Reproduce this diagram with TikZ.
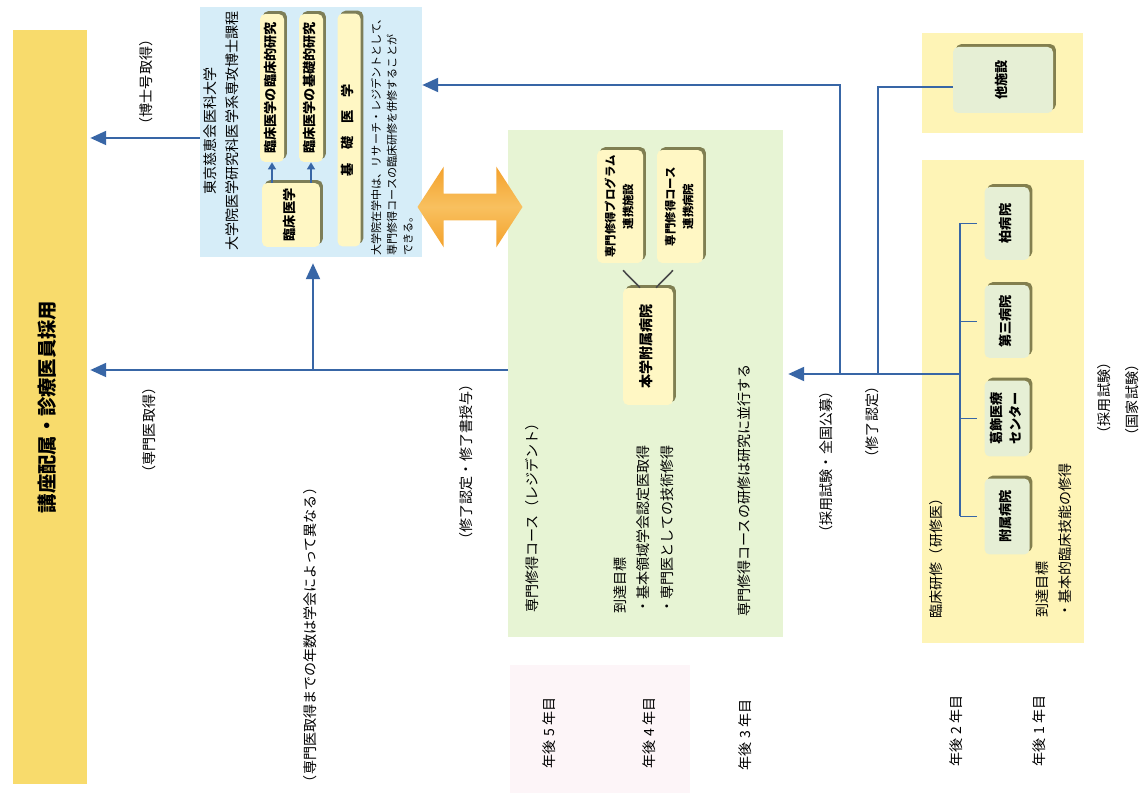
\documentclass[tikz,border=0pt]{standalone}
\usepackage{fontspec}
\usepackage{graphicx}
\setmainfont{Noto Sans CJK JP}
\usetikzlibrary{arrows.meta,positioning,calc,shapes.arrows,shadows}
\definecolor{barYellow}{HTML}{F8DB6C}
\definecolor{gradBlue}{HTML}{D6EDF8}
\definecolor{courseGreen}{HTML}{E7F4D4}
\definecolor{trainYellow}{HTML}{FEF4B6}
\definecolor{boxCream}{HTML}{FFF7C4}
\definecolor{hospGreen}{HTML}{E6EFD5}
\definecolor{boxShade}{HTML}{6E6B3C}
\definecolor{flowBlue}{HTML}{3866A6}
\definecolor{tieGray}{HTML}{4A4A4A}
\definecolor{linkOrange}{HTML}{F4A22C}
\definecolor{linkLight}{HTML}{F8C05F}
\definecolor{yearPink}{HTML}{FDF5F8}
\newcommand{\vtxt}[2][c]{\rotatebox{90}{\begin{tabular}{@{}#1@{}}#2\end{tabular}}}
\tikzset{
    >={Triangle[length=9pt,width=8pt]},
    flow/.style={draw=flowBlue,line width=1pt},
    tie/.style={draw=tieGray,line width=0.9pt},
    panel/.style={draw=none,inner sep=0pt},
    barbox/.style={panel,fill=barYellow,font=\fontsize{11}{13}\selectfont\bfseries},
    vbox/.style={panel,fill=boxCream,rounded corners=3pt,
        font=\fontsize{7.5}{10}\selectfont\bfseries,
        drop shadow={shadow xshift=1.6pt,shadow yshift=1.6pt,fill=boxShade,opacity=0.85}},
    hbox/.style={vbox,fill=hospGreen},
    lbl/.style={inner sep=0pt,font=\fontsize{8}{13}\selectfont}
}
\begin{document}
\begin{tikzpicture}[x=0.02cm,y=-0.02cm]
    \useasboundingbox[fill=white] (0,0) rectangle (1143,793);

    % Backgrounds
    \node[barbox,minimum width=1.48cm,minimum height=15.1cm] (post) at (50,407) {\vtxt{講座配属・診療医員採用}};
    \node[panel,fill=gradBlue,minimum width=4.44cm,minimum height=5cm] (grad) at (311,132) {};
    \node[panel,fill=courseGreen,minimum width=5.5cm,minimum height=10.14cm] (course) at (645.5,383.5) {};
    \node[panel,fill=trainYellow,minimum width=3.22cm,minimum height=2cm] (otherbg) at (1002.5,83) {};
    \node[panel,fill=trainYellow,minimum width=3.24cm,minimum height=9.66cm] (train) at (1003,401.5) {};
    \node[panel,fill=yearPink,minimum width=3.6cm,minimum height=2.56cm] (yearbg) at (600,729) {};

    % Graduate school
    \node[lbl] (gradttl) at (222,131) {\vtxt{東京慈恵会医科大学\\大学院医学研究科医学系専攻博士課程}};
    \node[vbox,minimum width=0.48cm,minimum height=2.96cm] (clinres) at (272,88) {\vtxt{臨床医学の臨床的研究}};
    \node[vbox,minimum width=0.48cm,minimum height=2.96cm] (basicres) at (311,88) {\vtxt{臨床医学の基礎的研究}};
    \node[vbox,minimum width=1.16cm,minimum height=1.28cm] (clinmed) at (291,215) {\vtxt{臨床医学}};
    \node[vbox,minimum width=0.46cm,minimum height=4.66cm] (basicmed) at (349,130) {\vtxt{基　礎　医　学}};
    \node[lbl,font=\fontsize{6.3}{9}\selectfont,anchor=south west] (gradnote) at (369,256)
        {\vtxt[l]{大学院在学中は、リサーチ・レジデントとして、\\専門修得コースの臨床研修を併修することが\\できる。}};
    \draw[flow,-{Triangle[length=4pt,width=4.5pt]}] (clinmed.north -| clinres) -- (clinres.south);
    \draw[flow,-{Triangle[length=4pt,width=4.5pt]}] (clinmed.north -| basicres) -- (basicres.south);

    % Link between school and course
    \node[double arrow,top color=linkOrange,bottom color=linkOrange,middle color=linkLight,
        minimum height=2.1cm,inner xsep=0pt,inner ysep=0.26cm,double arrow head extend=0.54cm,
        double arrow tip angle=114] (link) at (470,207) {};

    % Specialist course
    \node[vbox,font=\fontsize{6.5}{10}\selectfont\bfseries,minimum width=0.92cm,minimum height=2.26cm] (prog) at (620,206.5) {\vtxt{専門修得プログラム\\連携施設}};
    \node[vbox,font=\fontsize{6.5}{10}\selectfont\bfseries,minimum width=0.92cm,minimum height=2.26cm] (partner) at (680,206.5) {\vtxt{専門修得コース\\連携病院}};
    \node[vbox,font=\fontsize{8}{10}\selectfont\bfseries,minimum width=1cm,minimum height=2.34cm] (univ) at (648,346.5) {\vtxt{本学附属病院}};
    \draw[tie] ([shift={(3,7)}]prog.south) -- ([shift={(-8,0)}]univ.north);
    \draw[tie] ([shift={(-7,7)}]partner.south) -- ([shift={(8,0)}]univ.north);
    \node[lbl,anchor=south] (coursettl) at (533,613) {\vtxt{専門修得コース（レジデント）}};
    \node[lbl,font=\fontsize{8}{13.6}\selectfont,anchor=south west] (coursegoal) at (608,614)
        {\vtxt[l]{到達目標\\・基本領域学会認定医取得\\・専門医としての技術修得}};
    \node[lbl,anchor=south] (paranote) at (745,617) {\vtxt{専門修得コースの研修は研究に並行する}};

    % Clinical training
    \node[hbox,minimum width=2cm,minimum height=1.32cm] (other) at (1003,80) {\vtxt{他施設}};
    \node[hbox,minimum width=0.9cm,minimum height=1.46cm] (kashiwa) at (1007,223.5) {\vtxt{柏病院}};
    \node[hbox,minimum width=0.9cm,minimum height=1.46cm] (daisan) at (1007,321.5) {\vtxt{第三病院}};
    \node[hbox,font=\fontsize{7.5}{11}\selectfont\bfseries,minimum width=0.9cm,minimum height=1.52cm] (katsu) at (1007,418.5) {\vtxt{葛飾医療\\センター}};
    \node[hbox,minimum width=0.9cm,minimum height=1.52cm] (fuzoku) at (1007,516.5) {\vtxt{附属病院}};
    \node[lbl] (trainttl) at (937,555) {\vtxt{臨床研修（研修医）}};
    \node[lbl,anchor=south west] (traingoal) at (1031,618) {\vtxt[l]{到達目標\\・基本的臨床技能の修得}};

    % Connectors
    \coordinate (trunk) at (960,374);
    \coordinate (split1) at (840,374);
    \coordinate (split2) at (878,374);
    \draw[flow] (kashiwa.west -| trunk) -- (fuzoku.west -| trunk);
    \foreach \h in {kashiwa,daisan,katsu,fuzoku}
        \draw[flow] (\h.west -| trunk) -- ([shift={(-7,0)}]\h.west);
    \draw[flow,->] (trunk) -- ([shift={(5,0)}]course.east |- trunk);
    \draw[flow,->] (split1) |- ($(grad.east)+(0,-47)$);
    \draw[flow] (split2) |- ($(other.west)+(0,7)$);

    \coordinate (phdout) at ($(grad.west)+(0,6)$);
    \coordinate (specout) at ($(course.west)+(0,-13.5)$);
    \coordinate (up) at (313,370);
    \draw[flow,->] (phdout) -- ([shift={(3,0)}]phdout -| post.east);
    \draw[flow,->] (specout) -- ([shift={(3,0)}]specout -| post.east);
    \draw[flow,->] (up) -- ([shift={(0,6)}]up |- grad.south);

    % Labels
    \node[lbl] (phd) at (147,82) {\vtxt{（博士号取得）}};
    \node[lbl] (spec) at (150,430) {\vtxt{（専門医取得）}};
    \node[lbl] (years) at (311,635) {\vtxt{（専門医取得までの年数は学会によって異なる）}};
    \node[lbl] (cert) at (467,462) {\vtxt{（修了認定・修了書授与）}};
    \node[lbl] (recruit) at (827,462) {\vtxt{（採用試験・全国公募）}};
    \node[lbl] (done) at (873,422) {\vtxt{（修了認定）}};
    \node[lbl] (hire) at (1105,398) {\vtxt{（採用試験）}};
    \node[lbl] (natl) at (1133,400) {\vtxt{（国家試験）}};
    \foreach \n/\x/\y in {5/550/733,4/650/733,3/746/735,2/957/731,1/1040/731}
        \node[lbl] (year\n) at (\x,\y) {\vtxt{年後~\n~年目}};
\end{tikzpicture}
\end{document}
